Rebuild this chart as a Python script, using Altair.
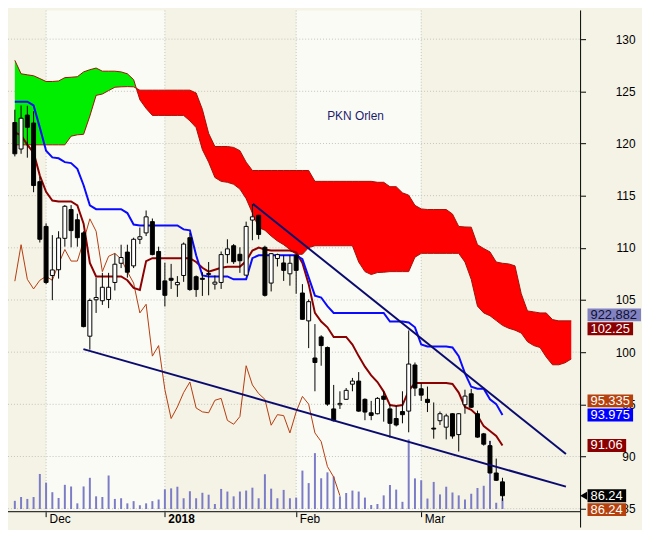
import altair as alt
import pandas as pd

# ---------------- data ----------------
# one entry per trading day, index 0 = first candle at the left edge
open_px = [122.01, 119.47, 122.72, 121.96, 116.34, 112.05, 107.35, 107.90, 110.91, 113.67,
           112.69, 111.43, 101.53, 105.02, 104.93, 105.05, 106.68, 108.52, 109.59, 108.27,
           110.82, 111.43, 112.51, 109.65, 106.83, 107.08, 106.46, 107.35, 110.97, 107.23,
           107.08, 107.44, 106.52, 106.68, 109.35, 110.20, 109.38, 107.38, 112.66, 113.12,
           110.05, 106.62, 108.98, 108.55, 107.51, 109.28, 105.67, 103.00, 99.44, 101.46,
           100.45, 94.56, 94.96, 95.48, 96.93, 97.23, 95.48, 94.19, 94.10, 95.79,
           94.56, 93.64, 94.31, 94.35, 98.77, 96.49, 95.48, 92.72, 93.43, 92.81,
           94.10, 92.10, 94.96, 96.01, 94.10, 92.17, 91.04, 88.42, 87.57]
close_px = [119.01, 122.42, 121.55, 115.97, 110.82, 106.68, 107.88, 110.94, 113.98, 111.65,
            110.97, 102.45, 104.96, 105.24, 106.22, 106.22, 108.43, 109.07, 107.66, 110.82,
            111.06, 112.97, 109.35, 106.00, 105.45, 106.89, 106.68, 110.36, 106.00, 106.00,
            106.98, 107.54, 106.71, 109.35, 109.90, 108.67, 108.76, 112.05, 112.97, 111.28,
            105.45, 109.44, 109.35, 107.84, 108.52, 107.84, 103.15, 104.84, 99.01, 100.63,
            95.02, 93.43, 95.09, 96.34, 97.23, 94.35, 94.26, 93.94, 95.57, 95.48,
            93.18, 93.02, 94.01, 98.86, 96.56, 95.88, 95.18, 92.63, 94.10, 93.89,
            91.96, 94.10, 95.79, 94.72, 91.86, 91.18, 88.42, 87.72, 86.24]
high_px = [123.24, 123.64, 123.61, 123.09, 116.80, 112.35, 111.22, 111.59, 114.10, 114.10,
           113.27, 111.59, 105.14, 107.14, 107.60, 107.60, 109.44, 110.30, 110.30, 110.97,
           111.95, 113.58, 112.81, 110.11, 108.58, 108.46, 107.29, 110.51, 111.43, 107.35,
           107.66, 108.64, 107.35, 109.65, 110.82, 110.36, 110.05, 112.51, 114.19, 113.15,
           110.20, 109.50, 109.44, 109.28, 109.28, 109.38, 106.52, 105.05, 102.69, 101.62,
           100.54, 96.86, 96.25, 96.56, 97.53, 98.09, 95.57, 95.33, 95.69, 96.25,
           95.02, 94.86, 96.25, 102.08, 99.01, 97.02, 96.70, 95.18, 94.31, 94.10,
           94.15, 94.15, 96.40, 96.49, 94.40, 92.26, 91.50, 89.80, 87.96]
low_px = [118.76, 119.01, 118.64, 115.33, 110.51, 106.52, 104.99, 107.05, 110.11, 110.05,
          110.11, 102.38, 100.24, 103.76, 104.53, 104.22, 105.91, 108.06, 107.14, 108.06,
          110.36, 111.13, 109.28, 105.97, 104.38, 106.06, 105.30, 106.74, 105.88, 105.30,
          105.39, 105.45, 106.00, 106.06, 108.52, 108.46, 107.60, 107.35, 110.73, 110.82,
          105.33, 105.82, 108.21, 106.83, 106.37, 105.60, 103.12, 100.39, 96.25, 98.70,
          94.86, 93.36, 94.56, 95.42, 96.25, 94.29, 93.48, 93.48, 94.04, 93.34,
          91.80, 92.88, 93.18, 92.32, 95.79, 95.33, 94.26, 91.71, 93.02, 91.64,
          91.71, 90.48, 94.10, 94.65, 91.80, 91.04, 88.40, 87.66, 85.75]
volume_k = [703, 1029, 866, 1029, 2990, 2255, 1438, 948, 2067, 1928,
            490, 1928, 2663, 1087, 1029, 2860, 866, 923, 490, 678,
            327, 490, 678, 817, 1683, 1765, 1904, 923, 1520, 923,
            1389, 1226, 433, 1716, 1495, 1087, 1495, 1577, 1822, 923,
            2966, 1740, 923, 1634, 923, 980, 3276, 2214, 4763, 2623,
            3129, 2778, 1087, 1373, 1577, 1495, 980, 351, 433, 1168,
            2051, 1659, 621, 5931, 2614, 2451, 899, 2312, 1250, 1904,
            1413, 1168, 817, 1307, 1797, 1985, 5801, 539, 922.882]
tenkan = [121.06, 120.79, 119.87, 119.13, 116.92, 115.36, 114.53, 114.44, 114.44, 114.44,
          114.07, 112.32, 108.55, 107.26, 107.26, 107.26, 107.26, 107.26, 106.89, 106.16,
          105.97, 108.73, 109.01, 109.01, 109.01, 109.01, 109.01, 109.01, 109.01, 108.64,
          108.09, 107.72, 107.90, 108.09, 108.18, 108.18, 108.18, 108.73, 109.74, 110.02,
          109.84, 109.74, 109.74, 109.74, 109.74, 109.56, 108.55, 106.52, 103.76, 102.93,
          102.38, 101.46, 101.46, 101.46, 100.73, 99.62, 98.61, 97.78, 97.14, 96.22,
          94.93, 94.84, 94.93, 96.31, 97.05, 97.05, 97.05, 97.05, 97.05, 97.05,
          96.95, 96.13, 94.75, 94.47, 93.92, 92.91, 92.44, 91.98, 91.06]
kijun = [124.01, 124.01, 124.01, 123.64, 121.52, 119.31, 118.67, 118.58, 118.21, 118.12,
         117.57, 116.00, 114.07, 113.70, 113.70, 113.70, 113.70, 113.70, 113.33, 112.23,
         112.14, 112.14, 112.14, 112.14, 112.14, 112.14, 112.14, 111.77, 111.68, 109.28,
         107.35, 107.26, 107.26, 107.26, 107.26, 106.98, 106.98, 106.98, 109.01, 109.28,
         109.28, 109.28, 109.28, 109.28, 109.28, 109.28, 108.92, 107.17, 105.42, 105.24,
         104.41, 103.76, 103.76, 103.76, 103.76, 103.76, 103.76, 103.76, 103.76, 103.76,
         102.93, 102.93, 102.93, 102.84, 102.38, 100.73, 100.54, 100.54, 100.54, 100.54,
         100.45, 99.62, 97.97, 96.68, 96.49, 96.49, 95.48, 95.02, 93.975]
chikou = [106.80, 110.30, 106.98, 106.06, 106.89, 107.26, 106.89, 108.46, 109.84, 108.73,
          108.73, 110.66, 112.78, 111.59, 107.72, 109.19, 109.47, 108.92, 107.72, 106.62,
          103.76, 104.59, 99.62, 100.63, 96.40, 93.64, 94.75, 96.13, 97.14, 94.65,
          94.28, 94.19, 95.39, 95.57, 93.46, 93.09, 93.83, 98.70, 96.86, 96.03,
          95.48, 93.00, 94.01, 93.92, 92.26, 94.28, 95.76, 95.02, 92.26, 91.43,
          89.04, 88.03, 86.24]
senkou_a = [127.97, 126.68, 126.58, 126.49, 126.22, 125.94, 125.94, 125.99, 126.31, 126.35,
            126.40, 126.86, 127.07, 127.23, 126.93, 126.93, 126.93, 126.86, 126.68, 126.12,
            124.19, 123.36, 122.69, 122.69, 122.69, 122.69, 122.69, 122.69, 122.17, 121.52,
            119.41, 118.21, 116.74, 116.37, 116.28, 116.09, 115.63, 114.71, 113.33, 111.95,
            111.68, 111.13, 110.66, 110.30, 109.84, 109.38, 109.38, 110.02, 110.20, 110.20,
            110.20, 110.20, 110.20, 110.20, 110.20, 108.64, 107.72, 107.44, 107.63, 107.66,
            107.72, 107.72, 107.72, 107.72, 109.10, 109.47, 109.47, 109.47, 109.47, 109.47,
            109.47, 109.47, 108.64, 106.98, 104.41, 103.76, 103.49, 103.03, 102.57, 102.29,
            102.11, 101.83, 101.00, 100.63, 100.45, 99.53, 98.79, 98.79, 98.98, 99.35]
senkou_b = [119.87, 119.87, 119.87, 119.87, 119.87, 119.87, 119.87, 119.87, 119.87, 120.70,
            120.83, 120.88, 122.63, 124.61, 124.74, 125.07, 125.39, 125.43, 125.45, 125.43,
            125.11, 125.11, 125.11, 125.11, 125.11, 125.11, 125.11, 125.11, 125.11, 124.84,
            123.27, 120.97, 119.71, 119.71, 119.71, 119.62, 119.31, 118.21, 117.41, 117.41,
            117.41, 117.41, 117.41, 117.41, 117.41, 117.41, 117.41, 117.41, 116.37, 116.37,
            116.37, 116.37, 116.37, 116.37, 116.37, 116.37, 116.37, 116.37, 116.28, 116.28,
            115.86, 115.86, 115.27, 115.05, 114.07, 113.73, 113.67, 113.67, 113.67, 113.67,
            113.24, 112.05, 112.00, 111.98, 110.30, 109.93, 109.61, 108.64, 108.52, 108.46,
            108.27, 105.60, 103.95, 103.86, 103.76, 103.76, 103.12, 103.00, 103.00, 103.00]
month_ticks = [5, 24, 45, 65]
month_labels = ["Dec", "2018", "Feb", "Mar"]
price_ticks = [85, 90, 95, 100, 105, 110, 115, 120, 125, 130]
trend_upper_i = [38.08, 88.15]
trend_upper_p = [114.21, 90.24]
trend_lower_i = [10.97, 88.15]
trend_lower_p = [100.29, 87.11]
tag_text = ["922,882", "102.25", "95.335", "93.975", "91.06", "86.24", "86.24"]
tag_value = [102.25, 102.25, 95.335, 93.975, 91.06, 86.24, 86.24]
title_text = "PKN Orlen"

# ---------------- styling / layout ----------------
W, H = 578, 506
PAD_R, PAD_B = 62, 16
FONT = "Arial, Liberation Sans, sans-serif"
tag_nudge = [-14, 0, 0, 0, 0, 0, 14]
tag_fill = ["#8282c2", "#8b0000", "#b5420e", "#0000ff", "#8b0000", "#000000", "#b5420e"]
tag_ink = ["#10102e", "#ffffff", "#ffffff", "#ffffff", "#ffffff", "#ffffff", "#ffffff"]
tag_w = [54, 46, 46, 46, 39, 39, 39]

x_scale = alt.Scale(domain=[-0.3, 89.7], nice=False, zero=False)
p_scale = alt.Scale(domain=[84.71, 132.75], nice=False, zero=False)
v_scale = alt.Scale(domain=[-221, 42428], nice=False, zero=False)

label_expr = " : ".join(f"datum.value == {v} ? '{s}'" for v, s in zip(month_ticks, month_labels)) + " : ''"
bold_test = f"datum.value == {month_ticks[month_labels.index('2018')]}"

x_axis = alt.Axis(values=month_ticks, labelExpr=label_expr, title=None, grid=False,
                  domain=False, ticks=True, tickSize=5, tickColor="black",
                  labelAlign="left", labelOffset=3, labelPadding=-3, labelBaseline="top",
                  labelFont=FONT, labelFontSize=12, labelColor="black",
                  labelOverlap=False, labelFlush=False,
                  labelFontWeight={"condition": {"test": bold_test, "value": "bold"}, "value": "normal"})
y_axis = alt.Axis(orient="right", values=price_ticks, title=None, grid=False, domain=False,
                  tickSize=5, tickColor="black", labelAlign="right", labelPadding=50,
                  labelFont=FONT, labelFontSize=12, labelColor="black",
                  labelOverlap=False, labelFlush=False, format="d")


def X(field):
    return alt.X(field, type="quantitative", scale=x_scale, axis=x_axis)


def Y(field, axis=None):
    return alt.Y(field, type="quantitative", scale=p_scale, axis=axis)


n = len(open_px)
candles = pd.DataFrame({"i": list(range(n)), "o": open_px, "h": high_px,
                        "l": low_px, "c": close_px})
vol = pd.DataFrame({"i": list(range(n)), "v": volume_k, "v0": [0] * n})
lines = pd.DataFrame({"i": list(range(n)), "tenkan": tenkan, "kijun": kijun})
chik = pd.DataFrame({"i": list(range(len(chikou))), "p": chikou})
spans = pd.DataFrame({"i": list(range(len(senkou_a))), "a": senkou_a, "b": senkou_b})

# split the cloud into green / red pieces at the crossings of the two spans
rows = []
seg = 0
for k in range(len(senkou_a)):
    d = senkou_a[k] - senkou_b[k]
    kind = "up" if d >= 0 else "down"
    if k > 0:
        dp = senkou_a[k - 1] - senkou_b[k - 1]
        if (dp >= 0) != (d >= 0):
            t = dp / (dp - d)
            xc = k - 1 + t
            yc = senkou_a[k - 1] + t * (senkou_a[k] - senkou_a[k - 1])
            rows.append({"i": xc, "a": yc, "b": yc, "kind": rows[-1]["kind"], "seg": seg})
            seg += 1
            rows.append({"i": xc, "a": yc, "b": yc, "kind": kind, "seg": seg})
    rows.append({"i": k, "a": senkou_a[k], "b": senkou_b[k], "kind": kind, "seg": seg})
cloud = pd.DataFrame(rows)

edges = [x_scale.domain[0]] + month_ticks + [x_scale.domain[1]]
bands = pd.DataFrame({"x0": edges[:-1], "x1": edges[1:],
                      "fill": ["#f4f3e6" if j % 2 == 0 else "#fbfbf6" for j in range(len(edges) - 1)]})

layers = []

layers.append(alt.Chart(bands).mark_rect().encode(
    x=X("x0"), x2=alt.X2("x1"), y=alt.value(0), y2=alt.value(H),
    color=alt.Color("fill:N", scale=None)))

layers.append(alt.Chart(pd.DataFrame({"i": month_ticks})).mark_rule(
    color="#c4c4bc", strokeDash=[1, 2], strokeWidth=1).encode(
    x=X("i"), y=alt.value(0), y2=alt.value(H)))

layers.append(alt.Chart(pd.DataFrame({"p": price_ticks})).mark_rule(
    color="#c4c4bc", strokeDash=[1, 2], strokeWidth=1).encode(
    y=Y("p", axis=y_axis), x=alt.value(0), x2=alt.value(W)))

layers.append(alt.Chart(vol).mark_bar(width=2, color="#7b7bc6", clip=True).encode(
    x=X("i"), y=alt.Y("v:Q", scale=v_scale, axis=None), y2=alt.Y2("v0")))

layers.append(alt.Chart(cloud).mark_area(clip=True, opacity=1).encode(
    x=X("i"), y=Y("a"), y2=alt.Y2("b"), detail="seg:N",
    color=alt.Color("kind:N", scale=alt.Scale(domain=["up", "down"], range=["#00ee00", "#ff0000"]),
                    legend=None)))

for col in ["a", "b"]:
    layers.append(alt.Chart(spans).mark_line(color="#a01208", strokeWidth=1, clip=True).encode(
        x=X("i"), y=Y(col)))

layers.append(alt.Chart(chik).mark_line(color="#b43c0e", strokeWidth=1, clip=True).encode(
    x=X("i"), y=Y("p")))
layers.append(alt.Chart(lines).mark_line(color="#8b0000", strokeWidth=2, clip=True).encode(
    x=X("i"), y=Y("tenkan")))
layers.append(alt.Chart(lines).mark_line(color="#0a0aff", strokeWidth=2, clip=True).encode(
    x=X("i"), y=Y("kijun")))

layers.append(alt.Chart(candles).mark_rule(color="black", strokeWidth=1, clip=True).encode(
    x=X("i"), y=Y("l"), y2=alt.Y2("h")))
layers.append(alt.Chart(candles).mark_bar(width=4, stroke="black", strokeWidth=1, clip=True).encode(
    x=X("i"), y=Y("o"), y2=alt.Y2("c"),
    fill=alt.condition("datum.c >= datum.o", alt.value("#ffffff"), alt.value("#000000"))))

trend = pd.DataFrame({"i": trend_upper_i + trend_lower_i, "p": trend_upper_p + trend_lower_p,
                      "line": ["upper", "upper", "lower", "lower"]})
layers.append(alt.Chart(trend).mark_line(color="#0b0b6e", strokeWidth=2, clip=True).encode(
    x=X("i"), y=Y("p"), detail="line:N"))

# frame lines (right axis line runs down to the bottom edge)
layers.append(alt.Chart(pd.DataFrame({"z": [0]})).mark_rule(color="black", strokeWidth=1).encode(
    x=alt.value(W), y=alt.value(0), y2=alt.value(H + PAD_B)))
layers.append(alt.Chart(pd.DataFrame({"z": [0]})).mark_rule(color="black", strokeWidth=1).encode(
    x=alt.value(0), x2=alt.value(W), y=alt.value(H)))

layers.append(alt.Chart(pd.DataFrame({"i": [54.5], "p": [122.6], "t": [title_text]})).mark_text(
    font=FONT, fontSize=12, color="#1c1c6e", align="center", baseline="middle").encode(
    x=X("i"), y=Y("p"), text="t:N"))

for k in range(len(tag_text)):
    df = pd.DataFrame({"v": [tag_value[k]], "t": [tag_text[k]]})
    layers.append(alt.Chart(df).mark_rule(strokeWidth=13, color=tag_fill[k], strokeCap="butt",
                                          yOffset=tag_nudge[k]).encode(
        x=alt.value(W + 7), x2=alt.value(W + 7 + tag_w[k]), y=Y("v")))
    if tag_fill[k] == "#000000":
        layers.append(alt.Chart(df).mark_point(shape="triangle-left", filled=True, color="black",
                                               size=64, opacity=1, yOffset=tag_nudge[k]).encode(
            x=alt.value(W + 3), y=Y("v")))
    layers.append(alt.Chart(df).mark_text(font=FONT, fontSize=13, color=tag_ink[k], align="left",
                                          baseline="middle", yOffset=tag_nudge[k]).encode(
        x=alt.value(W + 10), y=Y("v"), text="t:N"))

chart = alt.layer(*layers).resolve_scale(y="independent").properties(
    width=W, height=H, background="#f4f3e6",
    padding={"left": 0, "top": 0, "right": PAD_R, "bottom": PAD_B},
    autosize=alt.AutoSizeParams(type="none"),
).configure_view(stroke=None)

chart.save("out.html", embed_options={"renderer": "svg", "actions": False})
